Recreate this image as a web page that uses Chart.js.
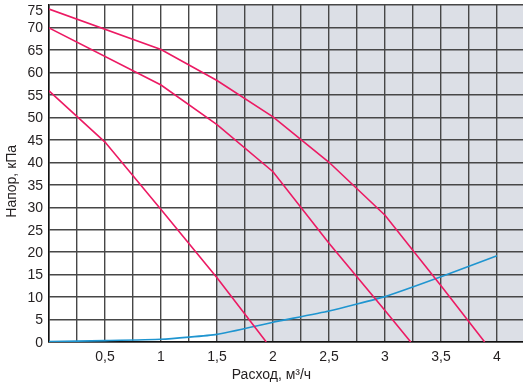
<!DOCTYPE html>
<html>
<head>
<meta charset="utf-8">
<script src="https://cdn.jsdelivr.net/npm/chart.js@4/dist/chart.umd.min.js"></script>
<style>
  html, body { margin: 0; padding: 0; background: #ffffff; overflow: hidden; width: 523px; height: 389px; }
  canvas { display: block; }
</style>
</head>
<body>
<canvas id="c" width="525" height="389" style="width:525px;height:389px"></canvas>
<script>
// ---- data ----
const flowA = [0, 1, 1.5, 2, 2.5, 3, 3.5, 3.89];
const headA = [74.1, 65.1, 58.2, 50.1, 40.0, 28.2, 12.5, 0];

const flowB = [0, 1, 1.5, 2, 2.5, 3, 3.23];
const headB = [69.9, 57.2, 48.4, 37.9, 22.0, 7.0, 0];

const flowC = [0, 0.5, 1, 1.5, 1.94];
const headC = [55.9, 44.5, 29.5, 14.3, 0];

const flowSys = [0, 0.5, 1, 1.5, 2, 2.5, 3, 3.5, 4];
const headSys = [0.1, 0.3, 0.6, 1.7, 4.4, 6.9, 10.1, 14.5, 19.2];

const shadeFrom = 1.5;
const yMax = 75;
const xTitle = 'Расход, м³/ч';
const yTitle = 'Напор, кПа';

const pts = (xs, ys) => xs.map((x, i) => ({ x: x, y: ys[i] }));

const FONT = "'Liberation Sans', Arial, sans-serif";
const PINK = '#ec1a63';
const BLUE = '#1f95d0';

const shadePlugin = {
  id: 'shade',
  beforeDraw(chart) {
    const { ctx, chartArea, scales } = chart;
    const x0 = scales.x.getPixelForValue(shadeFrom);
    ctx.save();
    ctx.fillStyle = '#dcdfe6';
    ctx.fillRect(x0, chartArea.top, chartArea.right - x0, chartArea.bottom - chartArea.top);
    ctx.restore();
  }
};

function noPad(s) {
  s.paddingLeft = 0; s.paddingRight = 0; s.paddingTop = 0; s.paddingBottom = 0;
}

new Chart(document.getElementById('c'), {
  type: 'line',
  data: {
    datasets: [
      { data: pts(flowA, headA), borderColor: PINK, borderWidth: 1.6, pointRadius: 0, tension: 0 },
      { data: pts(flowB, headB), borderColor: PINK, borderWidth: 1.6, pointRadius: 0, tension: 0 },
      { data: pts(flowC, headC), borderColor: PINK, borderWidth: 1.6, pointRadius: 0, tension: 0 },
      { data: pts(flowSys, headSys), borderColor: BLUE, borderWidth: 1.6, pointRadius: 0, tension: 0.15 }
    ]
  },
  options: {
    responsive: false,
    animation: false,
    devicePixelRatio: 1,
    layout: { padding: { top: 5, left: 0, right: 0, bottom: 0 } },
    plugins: { legend: { display: false }, tooltip: { enabled: false } },
    scales: {
      x: {
        type: 'linear',
        min: 0,
        max: 4.25,
        afterFit(s) { s.height = 47; noPad(s); },
        grid: { color: '#474747', lineWidth: 1.4, drawTicks: false },
        border: { color: '#111', width: 1.5 },
        ticks: {
          stepSize: 0.25,
          autoSkip: false,
          maxRotation: 0,
          padding: 7,
          color: '#231f20',
          font: { family: FONT, size: 14 },
          callback(v) {
            const half = Math.abs(v * 2 - Math.round(v * 2)) < 1e-6;
            if (!half || v <= 0 || v > 4.01) return '';
            return String(Math.round(v * 100) / 100).replace('.', ',');
          }
        },
        title: {
          display: true,
          text: xTitle + '\u00A0\u00A0\u00A0\u00A0\u00A0\u00A0\u00A0\u00A0',
          color: '#231f20',
          font: { family: FONT, size: 14 },
          padding: { top: 0, bottom: 5 }
        }
      },
      y: {
        type: 'linear',
        min: 0,
        max: yMax,
        afterFit(s) { s.width = 49; noPad(s); },
        grid: { color: '#474747', lineWidth: 1.4, drawTicks: false },
        border: { color: '#111', width: 1.5 },
        ticks: {
          stepSize: 5,
          autoSkip: false,
          padding: 6,
          labelOffset: 1,
          color: '#231f20',
          font: (c) => (c.tick && c.tick.value === yMax)
            ? { family: FONT, size: 14, lineHeight: 0.8 }
            : { family: FONT, size: 14 },
          callback(v) { return v === yMax ? ['', String(v)] : String(v); }
        },
        title: {
          display: true,
          text: yTitle + '\u00A0\u00A0\u00A0\u00A0',
          color: '#231f20',
          font: { family: FONT, size: 14 },
          padding: { top: 4, bottom: 0 }
        }
      }
    }
  },
  plugins: [shadePlugin]
});
</script>
</body>
</html>
